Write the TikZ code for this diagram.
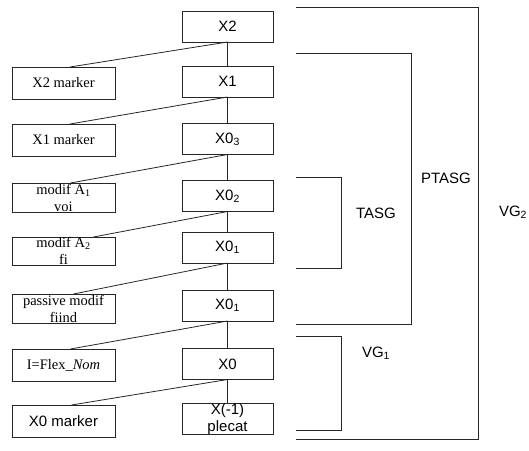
\documentclass[tikz,border=0pt]{standalone}
\usepackage{fontspec}
\setmainfont{Liberation Serif}
\setsansfont{Liberation Sans}
\begin{document}
\begin{tikzpicture}[x=1pt,y=-1pt,
  every node/.style={inner sep=0pt, outer sep=0pt},
  ln/.style={draw=black!85, line width=0.8pt},
  rbox/.style={ln, minimum width=91pt, minimum height=31pt,
    font=\sffamily\fontsize{15}{16}\selectfont},
  lbox/.style={ln, minimum width=103pt, minimum height=32pt,
    font=\rmfamily\fontsize{14.5}{15}\selectfont},
  twoline/.style={align=center, font=\rmfamily\fontsize{14.5}{17}\selectfont},
  twolinesf/.style={align=center, font=\sffamily\fontsize{15}{17}\selectfont},
  grp/.style={font=\sffamily\fontsize{15}{16}\selectfont}]
\useasboundingbox (0,0) rectangle (529,450);

% main column
\node[rbox] (x2)  at (227.5,26.5) {X2};
\node[rbox] (x1)  at (227.5,81.5) {X1};
\node[rbox] (x03) at (227.5,139)  {X0\textsubscript{3}};
\node[rbox] (x02) at (227.5,196)  {X0\textsubscript{2}};
\node[rbox] (x01) at (227.5,247.5){X0\textsubscript{1}};
\node[rbox] (x01b) at (227.5,305.5){X0\textsubscript{1}};
\node[rbox] (x0)  at (227.5,364)  {X0};
\node[rbox, label={[twolinesf]center:{X(-1)\\plecat}}] (xm1) at (227.5,419) {};

% side column
\node[lbox] (m2) at (63.5,83)  {X2 marker};
\node[lbox] (m1) at (63.5,140) {X1 marker};
\node[lbox, minimum height=29pt, label={[twoline]center:{modif A\textsubscript{1}\\voi}}] (a1) at (63.5,197.5) {};
\node[lbox, minimum height=28pt, label={[twoline]center:{modif A\textsubscript{2}\\fi}}] (a2) at (63.5,251) {};
\node[lbox, minimum height=29pt, label={[twoline]center:{passive modif\\fiind}}] (pm) at (63.5,308.5) {};
\node[lbox] (fl) at (63.5,365) {I=Flex\_\textit{Nom}};
\node[lbox, font=\sffamily\fontsize{15}{16}\selectfont] (m0) at (63.5,421) {X0 marker};

% spine
\draw[ln] (x2) -- (x1);
\draw[ln] (x1) -- (x03);
\draw[ln] (x03) -- (x02);
\draw[ln] (x02) -- (x01);
\draw[ln] (x01) -- (x01b);
\draw[ln] (x01b) -- (x0);
\draw[ln] (x0) -- (xm1);

% branches to the side column
\draw[ln] (x2.south)   -- ([xshift=6.5pt]m2.north);
\draw[ln] (x1.south)   -- ([xshift=6.5pt]m1.north);
\draw[ln] (x03.south)  -- ([xshift=7pt]a1.north);
\draw[ln] (x02.south)  -- ([xshift=30pt]a2.north);
\draw[ln] (x01.south)  -- ([xshift=10pt]pm.north);
\draw[ln] (x01b.south) -- ([xshift=7pt]fl.north);
\draw[ln] (x0.south)   -- ([xshift=8pt]m0.north);

% grouping brackets
\draw[ln] (296,7)   -- (478,7)   -- (478,439) -- (296,439);
\draw[ln] (296,53)  -- (411,53)  -- (411,324) -- (296,324);
\draw[ln] (296,177) -- (341,177) -- (341,268) -- (296,268);
\draw[ln] (296,336) -- (341,336) -- (341,430) -- (296,430);

\node[grp] (ptasg) at (446,178) {PTASG};
\node[grp] (tasg)  at (376,213) {TASG};
\node[grp] (vg1)   at (376,353) {VG\textsubscript{1}};
\node[grp] (vg2)   at (513,212) {VG\textsubscript{2}};
\end{tikzpicture}
\end{document}
